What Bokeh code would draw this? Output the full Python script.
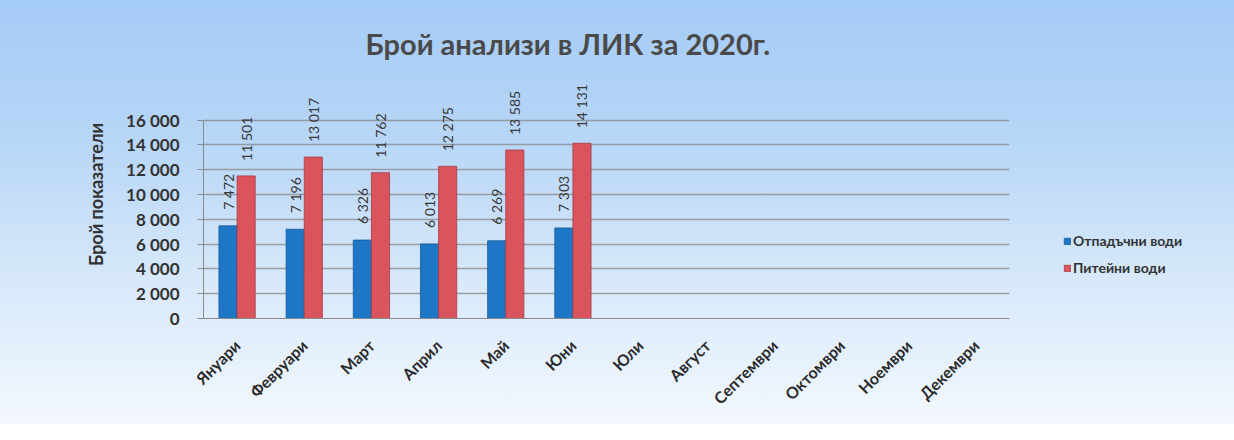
from math import pi
from bokeh.plotting import figure
from bokeh.models import ColumnDataSource, FixedTicker, Legend, LegendItem, Title
from bokeh.transform import dodge
from bokeh.core.properties import value
from bokeh.embed import file_html
from bokeh.resources import INLINE

months = ["Януари", "Февруари", "Март", "Април", "Май", "Юни",
          "Юли", "Август", "Септември", "Октомври", "Ноември", "Декември"]
data_months = ["Януари", "Февруари", "Март", "Април", "Май", "Юни"]
waste_water = [7472, 7196, 6326, 6013, 6269, 7303]
drinking_water = [11501, 13017, 11762, 12275, 13585, 14131]
y_ticks = [0, 2000, 4000, 6000, 8000, 10000, 12000, 14000, 16000]
y_tick_labels = ["0", "2 000", "4 000", "6 000", "8 000", "10 000", "12 000", "14 000", "16 000"]
series_names = ["Отпадъчни води", "Питейни води"]
title_text = "Брой анализи в ЛИК за 2020г."
y_title = "Брой показатели"

def fmt(v):
    return f"{v:,}".replace(",", " ")

src = ColumnDataSource(dict(
    m=data_months, w=waste_water, d=drinking_water,
    wl=[fmt(v) for v in waste_water], dl=[fmt(v) for v in drinking_water],
))

BLUE = "#1d76c6"
RED = "#d9545d"
FONT = "Lato"

p = figure(x_range=months, y_range=(0, 20000), frame_width=806, frame_height=248,
           output_backend="svg", toolbar_location=None,
           min_border_left=203, min_border_right=209, min_border_top=70, min_border_bottom=106)
p.background_fill_alpha = 0
p.border_fill_alpha = 0
p.outline_line_color = None
p.styles = {"background": "linear-gradient(180deg, #a4cbf7 0%, #b9d7f7 35%, #d6e8fa 65%, #f3f8fd 100%)"}

p.title = Title(text=title_text, align="left", offset=162, standoff=19,
                text_font=FONT, text_font_size="29px", text_font_style="bold", text_color="#4a4a4a")

rb = p.vbar(x=dodge("m", -0.135, range=p.x_range), top="w", width=0.27, source=src,
            fill_color=BLUE, line_color="#155a99", line_width=0.8)
rr = p.vbar(x=dodge("m", 0.135, range=p.x_range), top="d", width=0.27, source=src,
            fill_color=RED, line_color="#a83a42", line_width=0.8)

p.text(x=dodge("m", -0.135, range=p.x_range), y="w", text="wl", source=src, angle=pi/2,
       text_align="left", text_baseline="middle", y_offset=-16,
       text_font=value(FONT), text_font_size="14px", text_color="#383838")
p.text(x=dodge("m", 0.135, range=p.x_range), y="d", text="dl", source=src, angle=pi/2,
       text_align="left", text_baseline="middle", y_offset=-15,
       text_font=value(FONT), text_font_size="14px", text_color="#383838")

p.yaxis.ticker = FixedTicker(ticks=y_ticks)
p.yaxis.bounds = (0, 16000)
p.yaxis.major_label_overrides = {t_: l for t_, l in zip(y_ticks, y_tick_labels)}
p.yaxis.major_label_text_font = FONT
p.yaxis.major_label_text_font_size = "17px"
p.yaxis.major_label_text_font_style = "bold"
p.yaxis.major_label_text_color = "#333333"
p.yaxis.major_label_standoff = 18
p.yaxis.axis_label = y_title
p.yaxis.axis_label_text_font = FONT
p.yaxis.axis_label_text_font_size = "18px"
p.yaxis.axis_label_text_font_style = "bold"
p.yaxis.axis_label_text_color = "#333333"
p.yaxis.axis_label_standoff = 16
p.yaxis.axis_line_color = "#8a8a8a"
p.yaxis.major_tick_line_color = "#8a8a8a"
p.yaxis.major_tick_in = 0
p.yaxis.major_tick_out = 6
p.yaxis.minor_tick_line_color = None

p.xaxis.major_label_orientation = pi/4
p.xaxis.major_label_text_font = FONT
p.xaxis.major_label_text_font_size = "16px"
p.xaxis.major_label_text_font_style = "bold"
p.xaxis.major_label_text_color = "#2b2b2b"
p.xaxis.axis_line_color = "#8a8a8a"
p.xaxis.major_tick_line_color = None
p.xaxis.major_label_standoff = 18

p.xgrid.grid_line_color = None
p.ygrid.grid_line_color = "#8c8c8c"
p.ygrid.grid_line_width = 1.3
p.ygrid.grid_line_alpha = 0.8

legend = Legend(items=[LegendItem(label=series_names[0], renderers=[rb]),
                       LegendItem(label=series_names[1], renderers=[rr])],
                location=(54, 42), orientation="vertical",
                label_text_font=FONT, label_text_font_size="14px", label_text_font_style="bold",
                label_text_color="#333333", glyph_width=8, glyph_height=8, spacing=10,
                background_fill_alpha=0, border_line_color=None, padding=2, margin=0,
                label_standoff=2)
p.add_layout(legend, "right")

open("out.html", "w").write(file_html(p, INLINE))
